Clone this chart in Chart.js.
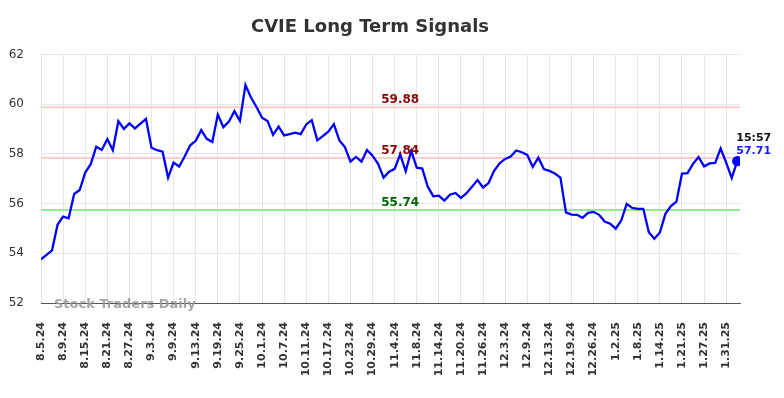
<!DOCTYPE html>
<html>
<head>
<meta charset="utf-8">
<script src="https://cdn.jsdelivr.net/npm/chart.js@4.4.1/dist/chart.umd.min.js"></script>
<style>
  html, body { margin: 0; padding: 0; background: #fff; }
</style>
</head>
<body>
<canvas id="chart" width="784" height="398"></canvas>
<script>
// tick labels, one every 4 trading days
const tickLabels = [
  '8.5.24', '8.9.24', '8.15.24', '8.21.24', '8.27.24', '9.3.24', '9.9.24', '9.13.24',
  '9.19.24', '9.25.24', '10.1.24', '10.7.24', '10.11.24', '10.17.24', '10.23.24', '10.29.24',
  '11.4.24', '11.8.24', '11.14.24', '11.20.24', '11.26.24', '12.3.24', '12.9.24', '12.13.24',
  '12.19.24', '12.26.24', '1.2.25', '1.8.25', '1.14.25', '1.21.25', '1.27.25', '1.31.25',
]

// daily closes
const closes = [
  53.76, 53.94, 54.12, 55.16, 55.48, 55.41, 56.39, 56.55, 57.25, 57.59,
  58.29, 58.16, 58.60, 58.15, 59.32, 59.01, 59.23, 59.03, 59.22, 59.41,
  58.25, 58.15, 58.09, 57.05, 57.65, 57.49, 57.90, 58.35, 58.53, 58.96,
  58.61, 58.48, 59.59, 59.08, 59.30, 59.72, 59.33, 60.77, 60.27, 59.89,
  59.46, 59.33, 58.77, 59.10, 58.75, 58.80, 58.86, 58.80, 59.19, 59.36,
  58.55, 58.72, 58.90, 59.20, 58.54, 58.28, 57.69, 57.88, 57.69, 58.16,
  57.93, 57.60, 57.05, 57.29, 57.40, 57.98, 57.30, 58.12, 57.45, 57.41,
  56.68, 56.30, 56.32, 56.12, 56.36, 56.43, 56.23, 56.42, 56.68, 56.95,
  56.65, 56.83, 57.32, 57.62, 57.80, 57.90, 58.14, 58.07, 57.96, 57.48,
  57.85, 57.39, 57.32, 57.21, 57.05, 55.65, 55.56, 55.55, 55.43, 55.63,
  55.67, 55.55, 55.28, 55.19, 54.99, 55.32, 55.99, 55.83, 55.79, 55.79,
  54.85, 54.59, 54.84, 55.59, 55.90, 56.08, 57.21, 57.23, 57.60, 57.88,
  57.50, 57.62, 57.64, 58.22, 57.65, 57.03, 57.71,
]

const signalLevels = [59.88, 57.84, 55.74]
const signalColors = ['rgb(255,204,204)', 'rgb(255,204,204)', 'rgb(153,230,153)']
const signalTextColors = ['#8b0000', '#8b0000', '#006400']
const lastTime = '15:57'
const yTicks = [52, 54, 56, 58, 60, 62]

const xMax = closes.length - 0.5
const lastIdx = closes.length - 1

const signalSets = signalLevels.map((lvl, k) => ({
  data: [{ x: 0, y: lvl }, { x: xMax, y: lvl }],
  borderColor: signalColors[k],
  borderWidth: 2,
  pointRadius: 0,
  order: 2,
}))

const textPlugin = {
  id: 'texts',
  afterDatasetsDraw(chart) {
    const { ctx, scales: { x, y } } = chart
    ctx.save()
    // signal labels
    ctx.font = 'bold 12px "DejaVu Sans"'
    ctx.textAlign = 'center'
    ctx.textBaseline = 'alphabetic'
    signalLevels.forEach((lvl, k) => {
      ctx.fillStyle = signalTextColors[k]
      ctx.fillText(lvl.toFixed(2), x.getPixelForValue(65), y.getPixelForValue(lvl) - 4)
    })
    // last price
    const px = x.getPixelForValue(lastIdx)
    const py = y.getPixelForValue(closes[lastIdx])
    ctx.textAlign = 'left'
    ctx.font = 'bold 11px "DejaVu Sans"'
    ctx.fillStyle = '#111'
    ctx.fillText(lastTime, px - 1, py - 20)
    ctx.fillStyle = '#1a1aff'
    ctx.fillText(closes[lastIdx].toFixed(2), px - 1, py - 7)
    // watermark
    ctx.font = 'bold 13px "DejaVu Sans"'
    ctx.fillStyle = 'rgba(150,150,150,0.85)'
    ctx.fillText('Stock Traders Daily', 54, y.bottom + 5)
    ctx.restore()
  },
}

new Chart(document.getElementById('chart').getContext('2d'), {
  type: 'line',
  data: {
    datasets: [
      {
        data: closes.map((v, i) => ({ x: i, y: v })),
        borderColor: '#0000ff',
        borderWidth: 2.3,
        tension: 0,
        pointRadius: closes.map((v, i) => (i === lastIdx ? 4 : 0)),
        pointBackgroundColor: '#0000ff',
        pointBorderColor: '#0000ff',
        order: 1,
      },
      ...signalSets,
    ],
  },
  options: {
    responsive: false,
    animation: false,
    layout: { padding: { left: 0, right: 44, top: 0, bottom: 0 } },
    plugins: {
      legend: { display: false },
      tooltip: { enabled: false },
      title: {
        display: true,
        text: 'CVIE Long Term Signals',
        color: '#333',
        font: { family: 'DejaVu Sans', size: 18, weight: 'bold' },
        padding: { top: 17, bottom: 16 },
      },
    },
    scales: {
      x: {
        type: 'linear',
        min: 0,
        max: xMax,
        afterBuildTicks: (s) => {
          s.ticks = tickLabels.map((_, k) => ({ value: k * 4 }))
        },
        afterFit: (s) => {
          s.height = 95
        },
        ticks: {
          autoSkip: false,
          minRotation: 90,
          maxRotation: 90,
          padding: 19,
          color: '#333',
          font: { family: 'DejaVu Sans', size: 11, weight: 'bold' },
          callback: (v) => tickLabels[v / 4],
        },
        grid: { color: '#e6e6e6', drawTicks: false },
        border: { color: '#555', width: 1 },
      },
      y: {
        min: 52,
        max: 62,
        afterBuildTicks: (s) => {
          s.ticks = yTicks.map((v) => ({ value: v }))
        },
        afterFit: (s) => {
          s.width = 41
        },
        ticks: {
          padding: 17,
          color: '#333',
          font: { family: 'DejaVu Sans', size: 12 },
        },
        grid: { color: '#e6e6e6', drawTicks: false },
        border: { display: false },
      },
    },
  },
  plugins: [textPlugin],
})
</script>
</body>
</html>
